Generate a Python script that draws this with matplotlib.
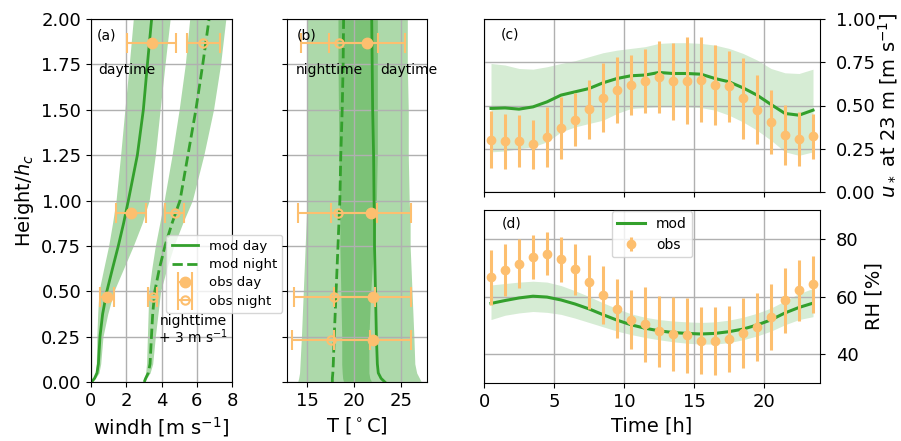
import numpy as np
import matplotlib
matplotlib.use("Agg")
import matplotlib.pyplot as plt

# ---------------- data ----------------
# (a) wind profiles (height / hc)
z_prof = [0, 0.02, 0.05, 0.1, 0.25, 0.375, 0.5, 0.625, 0.75, 0.875, 1.0, 1.25, 1.5, 1.75, 2.0]
u_day = [0.03, 0.2, 0.34, 0.42, 0.51, 0.66, 0.9, 1.22, 1.55, 1.85, 2.12, 2.63, 2.97, 3.2, 3.44]
u_day_lo = [0.02, 0.15, 0.25, 0.3, 0.33, 0.38, 0.45, 0.72, 1.0, 1.22, 1.42, 1.68, 1.92, 2.17, 2.4]
u_day_hi = [0.04, 0.25, 0.45, 0.55, 0.68, 0.95, 1.3, 1.85, 2.4, 2.9, 3.3, 3.65, 3.92, 4.2, 4.49]
u_night = [3.02, 3.1, 3.25, 3.35, 3.43, 3.5, 3.62, 3.88, 4.2, 4.6, 5.05, 5.5, 5.95, 6.34, 6.7]
u_night_lo = [3.0, 3.05, 3.1, 3.15, 3.2, 3.24, 3.28, 3.45, 3.65, 3.9, 4.15, 4.6, 5.0, 5.35, 5.6]
u_night_hi = [3.05, 3.15, 3.35, 3.5, 3.65, 3.8, 3.95, 4.3, 4.7, 5.2, 5.75, 6.4, 6.95, 7.35, 7.65]

z_obs_u = [1.867, 0.933, 0.467]
u_obs_day = [3.44, 2.27, 0.93]
u_obs_day_err = [1.4, 0.87, 0.4]
u_obs_night = [6.38, 4.75, 3.5]
u_obs_night_err = [0.92, 0.53, 0.26]

# (b) temperature profiles
T_day = [23.3, 22.9, 22.6, 22.5, 22.4, 22.35, 22.3, 22.25, 22.2, 22.2, 22.15, 22.1, 22.0, 21.95, 21.9]
T_day_lo = [18.9, 18.8, 18.75, 18.7, 18.7, 18.65, 18.6, 18.55, 18.5, 18.5, 18.45, 18.4, 18.35, 18.3, 18.3]
T_day_hi = [27.2, 27.0, 26.7, 26.5, 26.4, 26.3, 26.2, 26.1, 26.0, 26.0, 25.9, 25.8, 25.8, 25.7, 25.7]
T_night = [17.7, 17.7, 17.75, 17.8, 17.9, 18.0, 18.1, 18.2, 18.3, 18.4, 18.5, 18.6, 18.75, 18.85, 18.9]
T_night_lo = [14.0, 14.1, 14.2, 14.25, 14.4, 14.5, 14.6, 14.7, 14.8, 14.9, 15.0, 15.0, 15.0, 15.0, 15.0]
T_night_hi = [21.9, 21.7, 21.6, 21.6, 21.6, 21.7, 21.8, 21.95, 22.1, 22.25, 22.4, 22.5, 22.5, 22.5, 22.5]

z_obs_T = [1.867, 0.933, 0.467, 0.233]
T_obs_day = [21.4, 21.8, 22.0, 22.0]
T_obs_day_err = [4.05, 4.25, 4.1, 4.13]
T_obs_night = [18.46, 18.25, 17.9, 17.6]
T_obs_night_err = [4.1, 4.2, 4.3, 4.17]

# (c), (d) diurnal cycles
hours = [0.5, 1.5, 2.5, 3.5, 4.5, 5.5, 6.5, 7.5, 8.5, 9.5, 10.5, 11.5,
         12.5, 13.5, 14.5, 15.5, 16.5, 17.5, 18.5, 19.5, 20.5, 21.5, 22.5, 23.5]

ust_mod = [0.483, 0.486, 0.479, 0.492, 0.521, 0.560, 0.579, 0.598, 0.631, 0.656, 0.672, 0.676,
           0.691, 0.685, 0.685, 0.681, 0.656, 0.637, 0.602, 0.560, 0.506, 0.454, 0.444, 0.473]
ust_mod_hi = [0.743, 0.734, 0.714, 0.710, 0.724, 0.743, 0.759, 0.782, 0.805, 0.820, 0.830, 0.840,
              0.859, 0.863, 0.863, 0.859, 0.849, 0.830, 0.801, 0.763, 0.714, 0.689, 0.685, 0.710]
ust_mod_lo = [0.232, 0.237, 0.251, 0.261, 0.290, 0.347, 0.376, 0.396, 0.415, 0.454, 0.483, 0.488,
              0.492, 0.492, 0.492, 0.488, 0.473, 0.444, 0.405, 0.357, 0.299, 0.232, 0.212, 0.232]
ust_obs = [0.303, 0.292, 0.294, 0.277, 0.317, 0.372, 0.417, 0.478, 0.545, 0.587, 0.618, 0.640,
           0.666, 0.639, 0.643, 0.649, 0.618, 0.610, 0.541, 0.476, 0.403, 0.330, 0.307, 0.323]
ust_obs_err = [0.164, 0.161, 0.150, 0.142, 0.172, 0.179, 0.153, 0.169, 0.198, 0.191, 0.174, 0.186,
               0.208, 0.220, 0.251, 0.245, 0.232, 0.205, 0.232, 0.200, 0.185, 0.172, 0.156, 0.130]

rh_mod = [57.6, 58.6, 59.5, 60.1, 59.8, 58.8, 57.4, 55.7, 53.7, 51.8, 50.2, 49.0,
          48.1, 47.5, 47.2, 47.0, 47.2, 47.8, 48.7, 50.1, 51.9, 54.3, 56.2, 57.7]
rh_mod_hi = [64.0, 64.5, 65.0, 65.3, 65.0, 63.8, 62.0, 60.0, 57.8, 55.8, 54.0, 52.8,
             52.0, 51.5, 51.2, 51.0, 51.2, 51.8, 52.8, 54.2, 56.0, 58.5, 61.0, 62.8]
rh_mod_lo = [52.0, 53.5, 54.3, 54.8, 54.5, 53.8, 52.5, 51.0, 49.5, 48.0, 46.8, 45.8,
             45.0, 44.3, 43.8, 43.5, 43.5, 44.0, 45.0, 46.3, 48.0, 50.2, 52.0, 53.0]
rh_obs = [66.6, 69.2, 71.4, 73.7, 74.8, 72.9, 69.4, 65.1, 60.6, 55.8, 52.0, 50.3,
          47.9, 47.1, 46.5, 44.6, 44.6, 45.3, 47.4, 49.4, 52.9, 58.7, 62.1, 64.3]
rh_obs_err = [9.4, 8.9, 8.4, 7.8, 7.5, 7.9, 8.9, 9.4, 10.1, 10.3, 10.3, 12.9,
              12.2, 12.9, 12.9, 11.6, 11.9, 11.5, 12.1, 11.8, 11.5, 11.2, 10.6, 9.9]

# ---------------- style ----------------
GREEN = '#33a02c'
ORANGE = '#fdbf6f'
TICK_FS = 13
LABEL_FS = 14
TEXT_FS = 10

fig = plt.figure(figsize=(9.01, 4.41), dpi=100)
W, H = 901.0, 441.0

def box(l, r, t, b):
    return [l / W, 1 - b / H, (r - l) / W, (b - t) / H]

axa = fig.add_axes(box(91, 232, 19, 382))
axb = fig.add_axes(box(287, 427, 19, 382))
axc = fig.add_axes(box(484, 820, 19, 192))
axd = fig.add_axes(box(484, 820, 210, 383))

for ax in (axa, axb, axc, axd):
    ax.grid(True, color='#b0b0b0', lw=1.0)
    ax.tick_params(labelsize=TICK_FS)

# ---- (a) ----
axa.fill_betweenx(z_prof, u_day_lo, u_day_hi, color=GREEN, alpha=0.4, lw=0)
axa.fill_betweenx(z_prof, u_night_lo, u_night_hi, color=GREEN, alpha=0.4, lw=0)
axa.plot(u_day, z_prof, color=GREEN, lw=2, label='mod day')
axa.plot(u_night, z_prof, color=GREEN, lw=2, ls='--', label='mod night')
axa.errorbar(u_obs_day, z_obs_u, xerr=u_obs_day_err, fmt='o', color=ORANGE, ms=7.5,
             capsize=7.5, capthick=1.5, elinewidth=1.5, label='obs day')
axa.errorbar(u_obs_night, z_obs_u, xerr=u_obs_night_err, fmt='o', color=ORANGE, ms=6,
             mfc='none', mew=1.5, capsize=7.5, capthick=1.5, elinewidth=1.5, label='obs night')
axa.set_xlim(0, 8)
axa.set_ylim(0, 2)
axa.set_xticks([0, 2, 4, 6, 8])
axa.set_yticks(np.arange(0, 2.01, 0.25))
axa.set_xlabel('windh [m s$^{-1}$]', fontsize=LABEL_FS)
axa.set_ylabel('Height/$h_c$', fontsize=LABEL_FS)
axa.text(0.04, 0.975, '(a)', transform=axa.transAxes, fontsize=TEXT_FS, va='top')
axa.text(0.05, 0.88, 'daytime', transform=axa.transAxes, fontsize=TEXT_FS, va='top')
axa.text(0.725, 0.143, 'nighttime\n+ 3 m s$^{-1}$', transform=axa.transAxes,
         fontsize=TEXT_FS, ha='center', va='center', linespacing=1.0)
axa.legend(loc='lower left', bbox_to_anchor=(0.535, 0.19), borderaxespad=0,
           fontsize=9.5, labelspacing=0.4, framealpha=0.8)

# ---- (b) ----
axb.fill_betweenx(z_prof, T_day_lo, T_day_hi, color=GREEN, alpha=0.4, lw=0)
axb.fill_betweenx(z_prof, T_night_lo, T_night_hi, color=GREEN, alpha=0.4, lw=0)
axb.plot(T_day, z_prof, color=GREEN, lw=2)
axb.plot(T_night, z_prof, color=GREEN, lw=2, ls='--')
axb.errorbar(T_obs_day, z_obs_T, xerr=T_obs_day_err, fmt='o', color=ORANGE, ms=7.5,
             capsize=7.5, capthick=1.5, elinewidth=1.5)
axb.errorbar(T_obs_night, z_obs_T, xerr=T_obs_night_err, fmt='o', color=ORANGE, ms=6,
             mfc='none', mew=1.5, capsize=7.5, capthick=1.5, elinewidth=1.5)
axb.set_xlim(12.86, 27.8)
axb.set_ylim(0, 2)
axb.set_xticks([15, 20, 25])
axb.set_yticks(np.arange(0, 2.01, 0.25))
axb.set_yticklabels([])
axb.set_xlabel('T [$^\\circ$C]', fontsize=LABEL_FS)
axb.text(0.07, 0.975, '(b)', transform=axb.transAxes, fontsize=TEXT_FS, va='top')
axb.text(0.065, 0.88, 'nighttime', transform=axb.transAxes, fontsize=TEXT_FS, va='top')
axb.text(0.665, 0.88, 'daytime', transform=axb.transAxes, fontsize=TEXT_FS, va='top')

# ---- (c) ----
axc.fill_between(hours, ust_mod_lo, ust_mod_hi, color=GREEN, alpha=0.2, lw=0)
axc.plot(hours, ust_mod, color=GREEN, lw=2.2)
axc.errorbar(hours, ust_obs, yerr=ust_obs_err, fmt='o', color=ORANGE, ms=6, elinewidth=2.2)
axc.set_xlim(0, 24)
axc.set_ylim(0, 1)
axc.set_xticks([0, 5, 10, 15, 20])
axc.set_xticklabels([])
axc.set_yticks([0, 0.25, 0.5, 0.75, 1.0])
axc.yaxis.tick_right()
axc.yaxis.set_label_position('right')
axc.tick_params(axis='y', pad=8)
axc.set_ylabel('$u_*$ at 23 m [m s$^{-1}$]', fontsize=LABEL_FS, labelpad=0)
axc.text(0.05, 0.948, '(c)', transform=axc.transAxes, fontsize=TEXT_FS, va='top')

# ---- (d) ----
axd.fill_between(hours, rh_mod_lo, rh_mod_hi, color=GREEN, alpha=0.2, lw=0)
axd.plot(hours, rh_mod, color=GREEN, lw=2.2, label='mod')
axd.errorbar(hours, rh_obs, yerr=rh_obs_err, fmt='o', color=ORANGE, ms=6, elinewidth=2.2,
             label='obs')
axd.set_xlim(0, 24)
axd.set_ylim(30, 90)
axd.set_xticks([0, 5, 10, 15, 20])
axd.set_yticks([40, 60, 80])
axd.yaxis.tick_right()
axd.yaxis.set_label_position('right')
axd.tick_params(axis='y', pad=8)
axd.set_ylabel('RH [%]', fontsize=LABEL_FS)
axd.set_xlabel('Time [h]', fontsize=LABEL_FS)
axd.text(0.053, 0.96, '(d)', transform=axd.transAxes, fontsize=TEXT_FS, va='top')
axd.legend(loc='upper center', bbox_to_anchor=(0.5, 1.0), borderaxespad=0.1,
           fontsize=TEXT_FS, framealpha=0.8)

fig.savefig('out.png', dpi=100)
